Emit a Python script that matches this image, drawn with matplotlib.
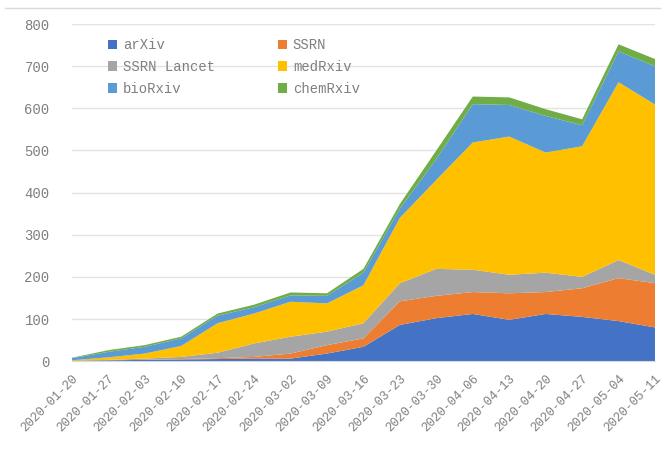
import matplotlib
matplotlib.use("Agg")
import matplotlib.pyplot as plt
import numpy as np

# weekly counts
weeks = ["2020-01-20", "2020-01-27", "2020-02-03", "2020-02-10", "2020-02-17",
         "2020-02-24", "2020-03-02", "2020-03-09", "2020-03-16", "2020-03-23",
         "2020-03-30", "2020-04-06", "2020-04-13", "2020-04-20", "2020-04-27",
         "2020-05-04", "2020-05-11"]
arxiv = [1, 2, 3, 4, 5, 6, 6, 18, 34, 86, 102, 112, 98, 112, 105, 95, 80]
ssrn = [0, 0, 0, 1, 2, 4, 12, 20, 20, 56, 53, 52, 63, 52, 68, 102, 105]
ssrn_lancet = [0, 1, 3, 5, 13, 32, 40, 32, 36, 43, 64, 53, 44, 46, 27, 43, 20]
medrxiv = [1, 6, 12, 26, 70, 71, 83, 67, 90, 155, 211, 302, 328, 285, 310, 422, 404]
biorxiv = [5, 13, 16, 18, 18, 15, 15, 18, 30, 22, 50, 91, 75, 87, 50, 73, 91]
chemrxiv = [1, 4, 4, 4, 5, 6, 7, 6, 9, 11, 20, 18, 18, 16, 14, 17, 17]

names = ["arXiv", "SSRN", "SSRN Lancet", "medRxiv", "bioRxiv", "chemRxiv"]
colors = ["#4472C4", "#ED7D31", "#A5A5A5", "#FFC000", "#5B9BD5", "#70AD47"]

mono = ["Liberation Mono", "DejaVu Sans Mono"]
grey = "#7f7f7f"

fig = plt.figure(figsize=(6.65, 4.63), dpi=100)
ax = fig.add_axes([0.108, 0.22, 0.877, 0.728])

x = np.arange(len(weeks))
polys = ax.stackplot(x, arxiv, ssrn, ssrn_lancet, medrxiv, biorxiv, chemrxiv,
                     colors=colors, labels=names, linewidth=0, zorder=2)

ax.set_xlim(0, len(weeks) - 1)
ax.set_ylim(0, 800)
ax.set_yticks(range(0, 801, 100))
ax.yaxis.grid(True, color="#e3e3e3", linewidth=1, zorder=0)
ax.set_axisbelow(True)
ax.set_xticks(x)
ax.set_xticklabels(weeks, rotation=45, ha="right", rotation_mode="anchor")
for lab in ax.get_yticklabels():
    lab.set_family(mono)
    lab.set_fontsize(10)
    lab.set_color(grey)
for lab in ax.get_xticklabels():
    lab.set_family(mono)
    lab.set_fontsize(9)
    lab.set_color(grey)
ax.tick_params(axis="both", length=0)
ax.tick_params(axis="y", pad=16)
ax.tick_params(axis="x", pad=8)
for side in ["top", "right", "left"]:
    ax.spines[side].set_visible(False)
ax.spines["bottom"].set_color("#d9d9d9")

# excel fills the legend row by row, matplotlib column by column
order = [0, 2, 4, 1, 3, 5]
leg = ax.legend([polys[i] for i in order], [names[i] for i in order],
                loc="upper left", bbox_to_anchor=(0.04, 0.995), ncol=2,
                frameon=False, handlelength=0.7, handleheight=0.7,
                handletextpad=0.4, columnspacing=4.5, labelspacing=0.55,
                prop={"family": mono, "size": 10})
for t in leg.get_texts():
    t.set_color(grey)

# light frame line at the top like the source picture
fig.add_artist(plt.Line2D([0.008, 0.992], [0.982, 0.982], color="#d9d9d9",
                          linewidth=1, transform=fig.transFigure))

fig.savefig("out.png", dpi=100)
